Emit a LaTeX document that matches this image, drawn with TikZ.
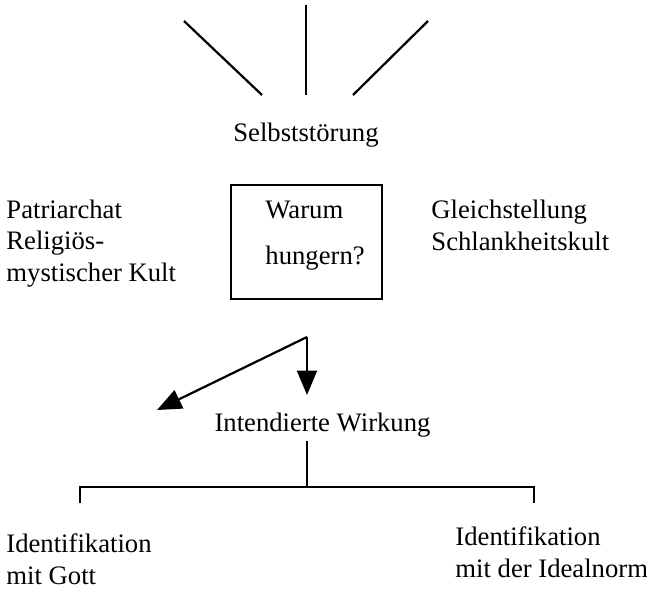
\documentclass[tikz,border=0pt]{standalone}
\usepackage{fontspec}
\setmainfont{Liberation Serif}
\usetikzlibrary{arrows.meta}
\begin{document}
\begin{tikzpicture}[x=0.45pt, y=-0.45pt,
  txt/.style={anchor=base west, align=left, inner sep=0pt, font=\fontsize{12}{14}\selectfont},
  mtxt/.style={anchor=base, inner sep=0pt, font=\fontsize{12}{14}\selectfont},
  strich/.style={line width=1pt},
  pfeil/.style={line width=1pt, -{Triangle[width=9pt,length=11pt]}}]
\useasboundingbox (0,0) rectangle (647,589);

% Strahlen oben
\coordinate (o1) at (184,21);  \coordinate (u1) at (262,95);
\coordinate (o2) at (306,5);   \coordinate (u2) at (306,95);
\coordinate (o3) at (428,21);  \coordinate (u3) at (353,95);
\draw[strich] (o1) -- (u1);
\draw[strich] (o2) -- (u2);
\draw[strich] (o3) -- (u3);

\node[mtxt] (selbst) at (306,141) {Selbststörung};

% Kasten
\node[draw, line width=1pt, minimum width=68pt, minimum height=51pt] (frage) at (306.5,242) {};
\node[txt] (warum) at (265,218) {Warum};
\node[txt] (hunger) at (265,264) {hungern?};

% mehrzeilig: base = letzte Zeile
\node[txt] (links) at (6,281) {Patriarchat\\Religiös-\\mystischer Kult};
\node[txt] (rechts) at (431,250) {Gleichstellung\\Schlankheitskult};

% Pfeile
\coordinate (gabel) at (307,337);
\coordinate (ziel1) at (307,395);
\coordinate (ziel2) at (157,410);
\draw[pfeil] (gabel) -- (ziel1);
\draw[pfeil] (gabel) -- (ziel2);

\node[mtxt] (wirkung) at (322.5,431) {Intendierte Wirkung};

% Verzweigung
\coordinate (stamm) at (307,441);
\coordinate (knoten) at (307,487);
\coordinate (astl) at (80,503);
\coordinate (astr) at (534,503);
\draw[strich] (stamm) -- (knoten);
\draw[strich] (astl) |- (knoten) -| (astr);

\node[txt] (gott) at (6,584) {Identifikation\\mit Gott};
\node[txt] (norm) at (455,577) {Identifikation\\mit der Idealnorm};
\end{tikzpicture}
\end{document}
